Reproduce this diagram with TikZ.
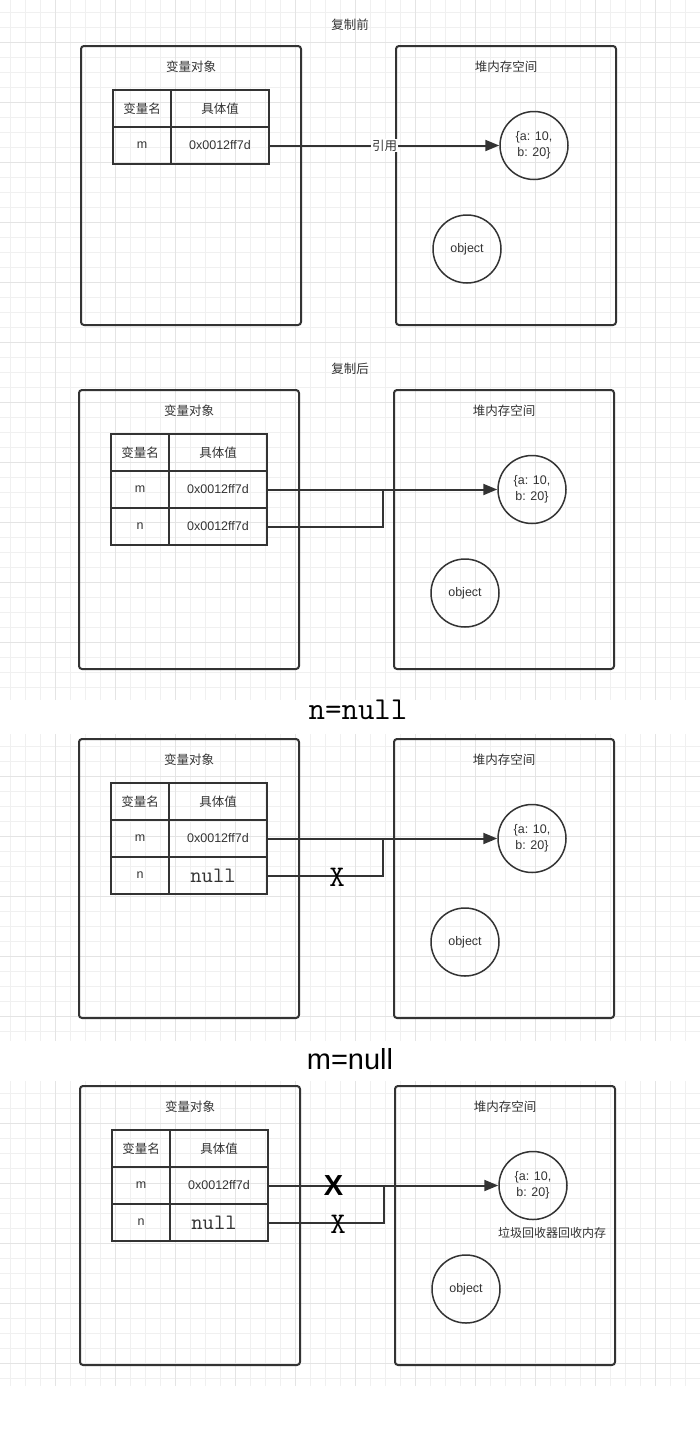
\documentclass[tikz,border=0pt]{standalone}
\usepackage{fontspec}
\setmainfont{Liberation Sans}
\newfontfamily\cjk{Noto Sans CJK SC}
\usetikzlibrary{arrows.meta}
\definecolor{ink}{HTML}{333333}
\definecolor{gridlite}{HTML}{F0F0F0}
\definecolor{griddark}{HTML}{E4E4E4}
\tikzset{
  panel/.style={draw=ink, line width=2pt, rounded corners=3pt, minimum width=220pt, minimum height=279pt, inner sep=0pt},
  zh/.style={text=ink, font=\cjk\fontsize{12.5}{15}\selectfont},
  cell/.style={draw=ink, line width=2pt, minimum height=37pt, inner sep=0pt, text=ink, font=\fontsize{12.5}{15}\selectfont},
  namecol/.style={cell, minimum width=58pt},
  valcol/.style={cell, minimum width=98pt},
  blob/.style={circle, draw=ink, line width=1.5pt, minimum size=68pt, inner sep=0pt, align=center, text=ink, font=\fontsize{12.5}{16.5}\selectfont},
  ref/.style={draw=ink, line width=2pt, -{Triangle[length=14pt,width=11pt]}},
  link/.style={draw=ink, line width=2pt},
  nullval/.style={font=\ttfamily\fontsize{22}{22}\selectfont}
}
\begin{document}
\begin{tikzpicture}[x=1pt,y=-1pt]
\useasboundingbox (0,0) rectangle (700,1451);
\foreach \ya/\yb in {0/700,734/1041,1081/1386}{
\begin{scope}
\clip (0,\ya) rectangle (700,\yb);
\foreach \k in {0,...,46} \draw[gridlite, line width=1pt] ({10.7+15*\k},\ya) -- ({10.7+15*\k},\yb);
\foreach \k in {0,...,46} \draw[gridlite, line width=1pt] (0,{\ya+12.3+15*\k}) -- (700,{\ya+12.3+15*\k});
\foreach \k in {0,...,11} \draw[griddark, line width=1pt] ({55.7+60*\k},\ya) -- ({55.7+60*\k},\yb);
\foreach \k in {0,...,11} \draw[griddark, line width=1pt] (0,{\ya+42.3+60*\k}) -- (700,{\ya+42.3+60*\k});
\end{scope}}
\node[zh] (before) at (350,25) {复制前};
\node[zh] (after) at (350,369) {复制后};
\node[font=\ttfamily\fontsize{32}{32}\selectfont] (nnull) at (358,710) {n=null};
\node[font=\fontsize{29}{29}\selectfont] (mnull) at (350,1059) {m=null};
\begin{scope}
\node[panel] (vars1) at (191,185.5) {};
\node[panel] (heap1) at (506,185.5) {};
\node[zh] (varsT1) at (191,67) {变量对象};
\node[zh] (heapT1) at (506,67) {堆内存空间};
\node[namecol, zh] (hname1) at (142,108.5) {变量名};
\node[valcol, zh] (hval1) at (220,108.5) {具体值};
\node[namecol] (m1) at (142,145.5) {m};
\node[valcol] (mval1) at (220,145.5) {0x0012ff7d};
\node[blob] (ab1) at (534,145.5) {\{a: 10,\\b: 20\}};
\node[blob] (obj1) at (467,249) {object};
\draw[ref] (mval1) -- node[zh, fill=white, inner sep=1pt] (quote1) {引用} (ab1);
\end{scope}
\begin{scope}[shift={(-2,344)}]
\node[panel] (vars2) at (191,185.5) {};
\node[panel] (heap2) at (506,185.5) {};
\node[zh] (varsT2) at (191,67) {变量对象};
\node[zh] (heapT2) at (506,67) {堆内存空间};
\node[namecol, zh] (hname2) at (142,108.5) {变量名};
\node[valcol, zh] (hval2) at (220,108.5) {具体值};
\node[namecol] (m2) at (142,145.5) {m};
\node[valcol] (mval2) at (220,145.5) {0x0012ff7d};
\node[namecol] (n2) at (142,182.5) {n};
\node[valcol] (nval2) at (220,182.5) {0x0012ff7d};
\node[blob] (ab2) at (534,145.5) {\{a: 10,\\b: 20\}};
\node[blob] (obj2) at (467,249) {object};
\coordinate (join2) at (385,145.5);
\draw[ref] (mval2) -- (ab2);
\draw[link] (nval2) -| (join2);
\end{scope}
\begin{scope}[shift={(-2,693)}]
\node[panel] (vars3) at (191,185.5) {};
\node[panel] (heap3) at (506,185.5) {};
\node[zh] (varsT3) at (191,67) {变量对象};
\node[zh] (heapT3) at (506,67) {堆内存空间};
\node[namecol, zh] (hname3) at (142,108.5) {变量名};
\node[valcol, zh] (hval3) at (220,108.5) {具体值};
\node[namecol] (m3) at (142,145.5) {m};
\node[valcol] (mval3) at (220,145.5) {0x0012ff7d};
\node[namecol] (n3) at (142,182.5) {n};
\node[valcol, nullval] (nval3) at (220,182.5) {null\hspace*{10pt}};
\node[blob] (ab3) at (534,145.5) {\{a: 10,\\b: 20\}};
\node[blob] (obj3) at (467,249) {object};
\coordinate (join3) at (385,145.5);
\draw[ref] (mval3) -- (ab3);
\draw[link] (nval3) -| (join3);
\node[font=\ttfamily\fontsize{30}{30}\selectfont] (cut3) at (339,184) {X};
\end{scope}
\begin{scope}[shift={(-1,1040)}]
\node[panel] (vars4) at (191,185.5) {};
\node[panel] (heap4) at (506,185.5) {};
\node[zh] (varsT4) at (191,67) {变量对象};
\node[zh] (heapT4) at (506,67) {堆内存空间};
\node[namecol, zh] (hname4) at (142,108.5) {变量名};
\node[valcol, zh] (hval4) at (220,108.5) {具体值};
\node[namecol] (m4) at (142,145.5) {m};
\node[valcol] (mval4) at (220,145.5) {0x0012ff7d};
\node[namecol] (n4) at (142,182.5) {n};
\node[valcol, nullval] (nval4) at (220,182.5) {null\hspace*{10pt}};
\node[blob] (ab4) at (534,145.5) {\{a: 10,\\b: 20\}};
\node[blob] (obj4) at (467,249) {object};
\coordinate (join4) at (385,145.5);
\draw[ref] (mval4) -- (ab4);
\draw[link] (nval4) -| (join4);
\node[font=\bfseries\fontsize{29}{29}\selectfont] (cutm4) at (334.6,145.5) {X};
\node[font=\ttfamily\fontsize{30}{30}\selectfont] (cutn4) at (339,184.5) {X};
\node[zh, font=\cjk\fontsize{12}{14}\selectfont] (gc4) at (553,193) {垃圾回收器回收内存};
\end{scope}
\end{tikzpicture}
\end{document}
